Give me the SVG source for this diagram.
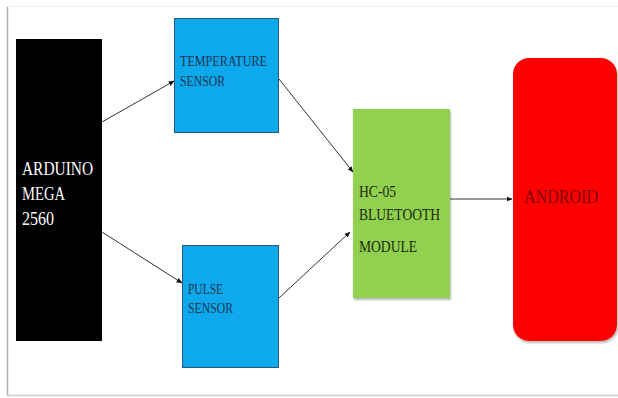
<svg xmlns="http://www.w3.org/2000/svg" width="618" height="398" viewBox="0 0 618 398">
<defs>
<marker id="ah" markerWidth="6" markerHeight="6" refX="5.5" refY="3" orient="auto" markerUnits="userSpaceOnUse">
<path d="M0,0.5 L6,3 L0,5.5 Z" fill="#111"/>
</marker>
<filter id="sh" x="-10%" y="-10%" width="120%" height="120%">
<feDropShadow dx="1" dy="2" stdDeviation="1" flood-color="#888" flood-opacity="0.6"/>
</filter>
</defs>
<style>
.lbl{font-family:"Liberation Serif","Times New Roman",serif;}
.blue{fill:#0EA8EC;stroke:#2a5a7a;stroke-width:1;}
.conn{stroke:#333;stroke-width:1;fill:none;marker-end:url(#ah);}
</style>
<rect x="0" y="0" width="618" height="398" fill="#fff"/>
<g id="frame" fill="none">
<line x1="7.5" y1="6" x2="7.5" y2="396" stroke="#b0b0b0" stroke-width="1.5"/>
<line x1="7" y1="395.5" x2="618" y2="395.5" stroke="#cfcfcf" stroke-width="1.5"/>
<line x1="7" y1="6.5" x2="618" y2="6.5" stroke="#f0f0f0" stroke-width="1"/>
</g>
<g id="arduino">
<rect x="16" y="39" width="86" height="302" fill="#000"/>
<text class="lbl" x="22" y="175" font-size="18" fill="#fff" textLength="71" lengthAdjust="spacingAndGlyphs">ARDUINO</text>
<text class="lbl" x="22" y="200" font-size="18" fill="#fff" textLength="43" lengthAdjust="spacingAndGlyphs">MEGA</text>
<text class="lbl" x="22" y="225" font-size="18" fill="#fff" textLength="32" lengthAdjust="spacingAndGlyphs">2560</text>
</g>
<g id="temperature">
<rect class="blue" x="174.5" y="18.5" width="104" height="114"/>
<text class="lbl" x="180" y="66" font-size="15" fill="#1c3550" textLength="87" lengthAdjust="spacingAndGlyphs">TEMPERATURE</text>
<text class="lbl" x="180" y="86" font-size="15" fill="#1c3550" textLength="45" lengthAdjust="spacingAndGlyphs">SENSOR</text>
</g>
<g id="pulse">
<rect class="blue" x="182.5" y="245.5" width="96" height="122"/>
<text class="lbl" x="188" y="294" font-size="15" fill="#1c3550" textLength="35" lengthAdjust="spacingAndGlyphs">PULSE</text>
<text class="lbl" x="188" y="313" font-size="15" fill="#1c3550" textLength="45" lengthAdjust="spacingAndGlyphs">SENSOR</text>
</g>
<g id="bluetooth">
<rect x="353" y="109" width="97" height="189" fill="#92D050" filter="url(#sh)"/>
<text class="lbl" x="359" y="197" font-size="16" fill="#1b2b10" textLength="37" lengthAdjust="spacingAndGlyphs">HC-05</text>
<text class="lbl" x="359" y="220" font-size="16" fill="#1b2b10" textLength="81" lengthAdjust="spacingAndGlyphs">BLUETOOTH</text>
<text class="lbl" x="359" y="252" font-size="16" fill="#1b2b10" textLength="58" lengthAdjust="spacingAndGlyphs">MODULE</text>
</g>
<g id="android">
<rect x="513" y="58" width="104" height="283" rx="16" ry="16" fill="#FF0000" filter="url(#sh)"/>
<text class="lbl" x="524" y="203" font-size="19" fill="#7a0000" textLength="74" lengthAdjust="spacingAndGlyphs">ANDROID</text>
</g>
<g id="connectors">
<line class="conn" x1="102" y1="122" x2="174" y2="81"/>
<line class="conn" x1="102" y1="232" x2="182" y2="283"/>
<line class="conn" x1="279" y1="79" x2="353" y2="172"/>
<line class="conn" x1="279" y1="298" x2="350" y2="232"/>
<line class="conn" x1="450" y1="199" x2="512" y2="199"/>
</g>
</svg>
